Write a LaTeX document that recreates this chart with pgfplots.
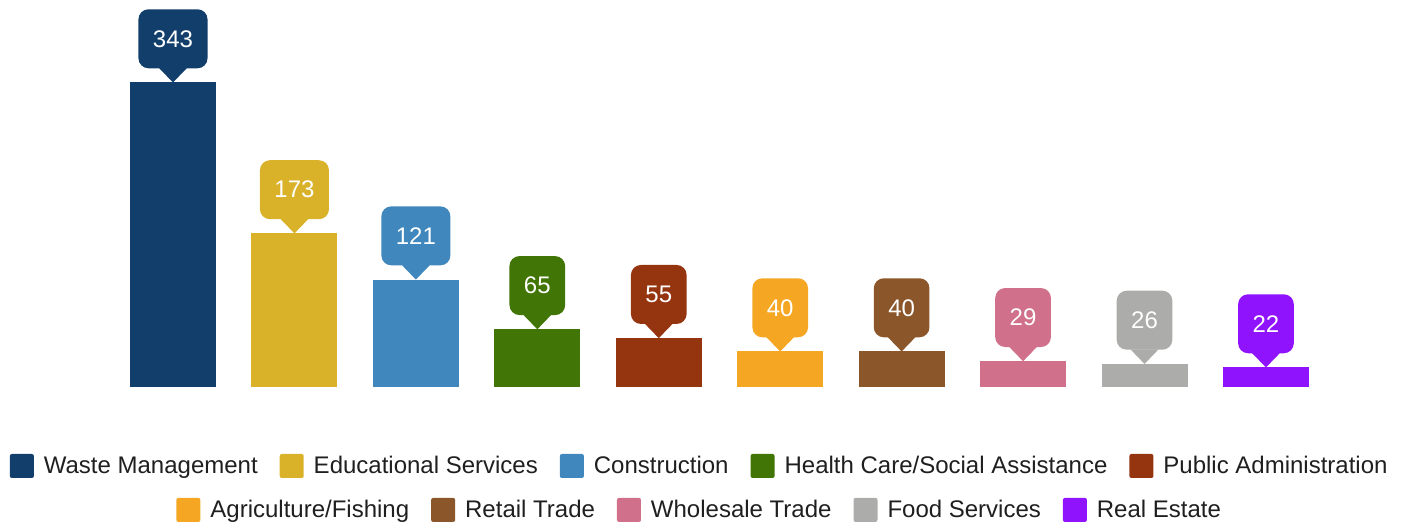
\documentclass[border=0pt]{standalone}
\usepackage{pgfplots}
\pgfplotsset{compat=1.18}
\usepackage{fontspec}
\setmainfont{Liberation Sans}
\definecolor{cWM}{HTML}{123E6B}
\definecolor{cES}{HTML}{DAB229}
\definecolor{cCO}{HTML}{3F87BD}
\definecolor{cHC}{HTML}{417505}
\definecolor{cPA}{HTML}{953510}
\definecolor{cAG}{HTML}{F5A623}
\definecolor{cRT}{HTML}{8B572A}
\definecolor{cWT}{HTML}{D0708A}
\definecolor{cFS}{HTML}{ACACAB}
\definecolor{cRE}{HTML}{9013FE}
\pgfplotsset{
  base/.style={
    at={(0,0)}, anchor=south west, scale only axis,
    width=1403pt, height=523pt,
    xmin=-1.4246, xmax=10.1285, ymin=-153.2, ymax=435.9,
    hide axis, clip=false,
    /pgf/number format/assume math mode=true,
    legend columns=-1,
    legend style={draw=none, fill=none, anchor=center,
      font=\fontsize{24}{28}\selectfont, text=black!88,
      inner sep=0pt, outer sep=0pt,
      nodes={inner sep=0pt},
      /tikz/every odd column/.append style={column sep=10pt},
      /tikz/every even column/.append style={column sep=22pt}},
    legend image code/.code={\fill[##1, draw=none, rounded corners=2pt] (0pt,-12pt) rectangle (24pt,12pt);},
  },
  bar/.style={ybar, bar shift=0pt, bar width=86pt, fill=#1, draw=none,
    nodes near coords, point meta=y,
    nodes near coords style={font=\fontsize{24}{24}\selectfont, text=white,
      fill=#1, rounded corners=10pt, inner xsep=14.5pt, inner ysep=0pt,
      minimum height=59pt, anchor=south, yshift=14pt,
      append after command={\pgfextra{\fill[#1, sharp corners]
        ([xshift=-14pt,yshift=0.5pt]\tikzlastnode.south) --
        ([xshift=14pt,yshift=0.5pt]\tikzlastnode.south) --
        ([yshift=-14pt]\tikzlastnode.south) -- cycle;}}}
  },
}
\begin{document}
\begin{tikzpicture}
\begin{axis}[base,
  legend style={at={(rel axis cs:0.498,0.109)}}]
\addplot[bar=cWM] coordinates {(0,343)};
\addlegendentry{Waste Management}
\addplot[bar=cES] coordinates {(1,173)};
\addlegendentry{Educational Services}
\addplot[bar=cCO] coordinates {(2,121)};
\addlegendentry{Construction}
\addplot[bar=cHC] coordinates {(3,65)};
\addlegendentry{Health Care/Social Assistance}
\addplot[bar=cPA] coordinates {(4,55)};
\addlegendentry{Public Administration}
\end{axis}
\begin{axis}[base,
  legend style={at={(rel axis cs:0.498,0.025)}}]
\addplot[bar=cAG] coordinates {(5,40)};
\addlegendentry{Agriculture/Fishing}
\addplot[bar=cRT] coordinates {(6,40)};
\addlegendentry{Retail Trade}
\addplot[bar=cWT] coordinates {(7,29)};
\addlegendentry{Wholesale Trade}
\addplot[bar=cFS] coordinates {(8,26)};
\addlegendentry{Food Services}
\addplot[bar=cRE] coordinates {(9,22)};
\addlegendentry{Real Estate}
\end{axis}
\pgfresetboundingbox
\path (0,0) rectangle (1403pt,523pt);
\end{tikzpicture}
\end{document}
